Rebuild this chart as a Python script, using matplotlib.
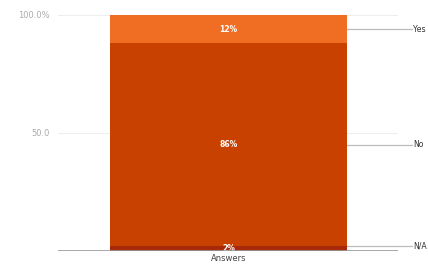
import matplotlib
matplotlib.use("Agg")
import matplotlib.pyplot as plt

categories = ["Answers"]
series_names = ["N/A", "No", "Yes"]
series_values = [2, 86, 12]
series_labels = ["2%", "86%", "12%"]
colors = ["#a8290a", "#c94100", "#ef6e24"]
ytick_vals = [50, 100]
ytick_labels = ["50.0", "100.0%"]

fig = plt.figure(figsize=(4.28, 2.73), dpi=100)
ax = fig.add_axes([58/428, 22/273, 340/428, 236/273])
ax.set_xlim(-0.5015, 0.4985)
ax.set_ylim(0, 100)

bar_w = 0.697
line_end = 0.5400
text_x = 0.5440

bottom = 0
for name, val, lab, col in zip(series_names, series_values, series_labels, colors):
    ax.bar(0, val, width=bar_w, bottom=bottom, color=col, zorder=3)
    ax.text(0, bottom + val / 2, lab, ha="center", va="center", color="white",
            fontsize=5.5, fontweight="bold", zorder=4)
    ymid = bottom + val / 2
    if name == "N/A":
        ymid = 2.0
    ax.plot([bar_w / 2, line_end], [ymid, ymid], color="#bbbbbb", lw=0.9,
            clip_on=False, zorder=2)
    ax.text(text_x, ymid, name, ha="left", va="center", fontsize=5.6,
            color="#333333", clip_on=False)
    bottom += val

for v in ytick_vals:
    ax.axhline(v, color="#eeeeee", lw=0.8, zorder=1)
ax.axhline(0, color="#999999", lw=1.2, zorder=5)

ax.set_yticks(ytick_vals)
ax.set_yticklabels(ytick_labels, fontsize=6, color="#aaaaaa")
ax.tick_params(axis="y", length=0, pad=6)
ax.set_xticks([0])
ax.set_xticklabels(categories, fontsize=6, color="#444444")
ax.tick_params(axis="x", length=0, pad=2)
for s in ax.spines.values():
    s.set_visible(False)

fig.savefig("out.png", dpi=100)
